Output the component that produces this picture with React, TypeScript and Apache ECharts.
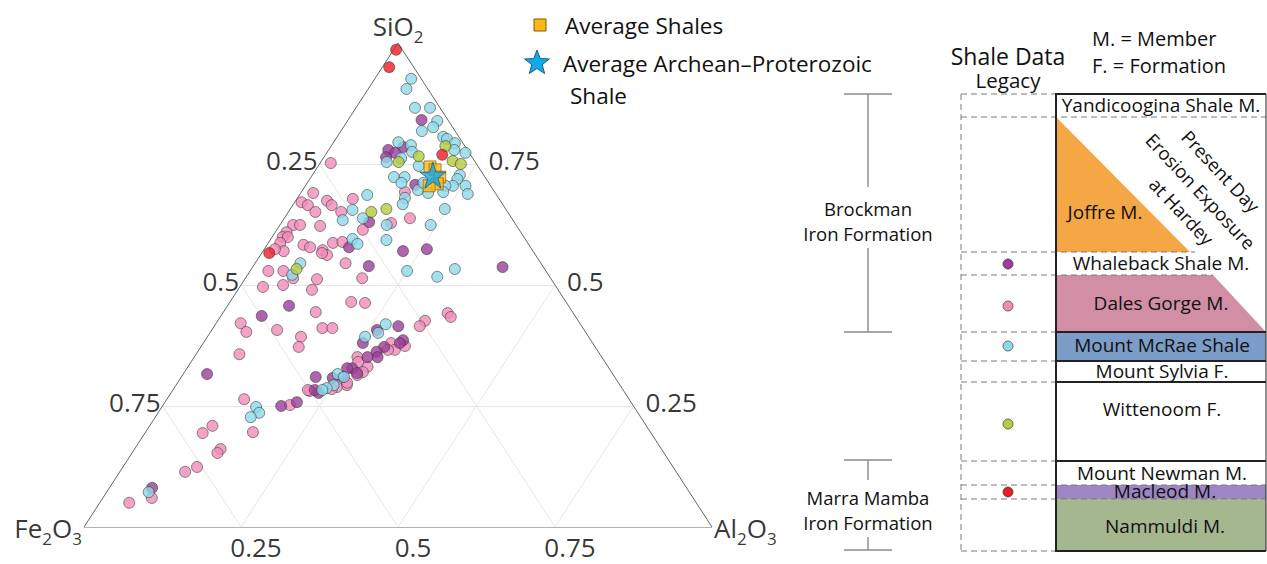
import { useEffect, useRef } from "react";
import * as echarts from "echarts";

// Ternary data, each point = [SiO2 %, Al2O3 %]  (Fe2O3 = 100 - SiO2 - Al2O3)
const macleodRed: number[][] = [
  [98.6, 0.4], [95.0, 1.1], [76.9, 18.6], [56.6, 1.2],
];
const mountMcRaeCyan: number[][] = [
  [92.6, 5.8], [90.5, 6.1], [86.6, 9.4], [86.6, 11.8], [83.9, 14.3], [82.6, 14.3], [81.8, 12.9],
  [80.6, 16.9], [80.2, 17.7], [79.3, 19.4], [77.9, 20.0], [77.3, 22.1], [79.5, 10.3], [78.9, 12.6],
  [76.2, 12.4], [75.4, 10.5], [74.6, 16.0], [72.3, 13.2], [72.3, 14.9], [71.1, 15.0], [72.7, 23.5],
  [71.9, 23.5], [70.5, 23.5], [70.5, 25.5], [68.8, 26.7], [70.5, 22.3], [69.6, 18.4], [69.0, 20.3],
  [68.0, 17.1], [66.7, 17.4], [65.7, 24.6], [68.6, 10.8], [65.5, 10.0], [63.4, 9.5], [63.8, 12.5],
  [62.4, 17.0], [59.3, 18.5], [62.4, 24.0], [59.5, 13.0], [58.5, 14.3], [54.5, 7.2], [52.1, 7.1],
  [52.9, 25.0], [51.7, 30.4], [53.3, 32.4], [41.9, 27.1], [40.1, 26.8], [39.3, 25.1], [31.6, 24.6],
  [31.0, 25.9], [29.3, 25.1], [28.7, 24.3], [28.3, 23.8], [24.8, 15.0], [23.6, 16.1], [22.7, 15.2],
  [7.2, 6.7], [69.2, 22.6], [71.1, 18.5], [77.5, 13.5],
];
const wittenoomGreen: number[][] = [
  [76.6, 15.0], [75.6, 20.9], [75.0, 22.5], [75.4, 12.4], [78.7, 18.2], [65.1, 13.2], [65.7, 15.3],
  [53.3, 7.2],
];
const whalebackPurple: number[][] = [
  [84.1, 11.7], [77.9, 9.5], [77.3, 10.9], [78.5, 11.6], [76.4, 9.9], [70.7, 17.4], [63.0, 13.9],
  [57.8, 13.3], [57.0, 22.3], [57.4, 25.9], [53.9, 18.4], [53.7, 39.8], [45.7, 9.8], [43.6, 6.5],
  [31.6, 3.8], [41.5, 29.3], [40.7, 26.3], [38.6, 31.5], [38.0, 31.3], [37.2, 29.2], [36.2, 28.5],
  [35.1, 29.2], [35.1, 27.6], [32.8, 26.3], [32.8, 25.5], [31.8, 27.6], [31.0, 25.7], [31.0, 21.4],
  [30.8, 24.2], [27.7, 23.5], [28.3, 22.6], [25.8, 21.0], [25.0, 18.9], [8.1, 6.8], [38.0, 25.4],
];
const dalesGorgePink: number[][] = [
  [75.2, 1.7], [69.0, 2.0], [67.1, 1.1], [66.5, 2.4], [65.1, 4.3], [67.4, 5.0], [66.5, 6.2],
  [67.8, 8.9], [65.1, 8.4], [62.4, 2.1], [62.4, 3.2], [62.2, 6.5], [60.9, 1.8], [59.9, 1.7],
  [59.9, 2.5], [58.7, 1.9], [57.0, 3.3], [57.4, 1.7], [58.3, 5.8], [57.8, 7.1], [58.7, 10.3],
  [58.9, 11.7], [57.2, 9.4], [56.2, 10.6], [56.6, 9.6], [61.4, 13.7], [62.8, 17.5], [63.8, 20.0],
  [69.2, 16.5], [54.5, 14.4], [52.9, 2.9], [52.9, 5.3], [50.0, 6.7], [49.6, 3.7], [51.2, 11.5],
  [49.0, 11.8], [51.4, 18.6], [51.4, 7.6], [42.1, 3.9], [40.3, 5.7], [40.7, 10.4], [39.3, 14.9],
  [37.2, 15.6], [44.4, 14.7], [46.5, 19.3], [46.3, 21.6], [41.1, 17.4], [41.1, 19.0], [35.7, 6.9],
  [44.2, 35.8], [43.4, 36.7], [42.6, 33.0], [41.5, 32.7], [38.0, 29.9], [36.6, 31.2], [37.4, 32.4],
  [35.1, 26.0], [33.1, 28.6], [32.0, 28.4], [31.4, 27.8], [29.3, 27.2], [28.9, 25.8], [28.5, 25.2],
  [28.1, 21.9], [25.2, 20.2], [26.4, 12.3], [19.6, 17.1], [20.9, 10.0], [19.4, 9.2], [16.1, 13.7],
  [15.3, 13.6], [12.4, 11.8], [11.4, 10.4], [6.0, 7.8], [5.0, 4.7], [36.6, 30.1], [34.1, 26.6],
  [29.8, 27.0], [28.3, 21.5],
];
const averageShales: number[][] = [
  [74.4, 17.9], [73.8, 19.0], [72.3, 20.5], [70.9, 20.8], [70.5, 19.7],
];
const averageArcheanProterozoicShale: number[][] = [[72.7, 19.2]];

const gridTicks = [25, 50, 75];
const tickLabels = ["0.25", "0.5", "0.75"];

const units = [
  "Yandicoogina Shale M.", "Joffre M.", "Whaleback Shale M.", "Dales Gorge M.", "Mount McRae Shale",
  "Mount Sylvia F.", "Wittenoom F.", "Mount Newman M.", "Macleod M.", "Nammuldi M.",
];

const FONT = "Open Sans";

// ternary -> cartesian (x = Al + Si/2, y = Si)
const toXY = (p: number[]) => [p[1] + p[0] / 2, p[0]];

function starPoints(cx: number, cy: number, R: number, r: number) {
  const pts: number[][] = [];
  for (let i = 0; i < 10; i++) {
    const a = -Math.PI / 2 + (i * Math.PI) / 5;
    const rr = i % 2 === 0 ? R : r;
    pts.push([cx + rr * Math.cos(a), cy + rr * Math.sin(a)]);
  }
  return pts;
}

const STAR_PATH =
  "path://M50,0 L61.8,35.4 L99,35.4 L69,57.3 L80.4,92.7 L50,70.8 L19.6,92.7 L31,57.3 L1,35.4 L38.2,35.4 Z";

export default function App() {
  const ref = useRef<HTMLDivElement>(null);
  useEffect(() => {
    document.body.style.margin = "0";
    if (!ref.current) return;
    const chart = echarts.init(ref.current, undefined, { renderer: "svg" });

    const gridLines: any[] = [];
    gridTicks.forEach((t) => {
      gridLines.push({ coords: [[t / 2, t], [100 - t / 2, t]] });
      gridLines.push({ coords: [[t, 0], [t + (100 - t) / 2, 100 - t]] });
      gridLines.push({ coords: [[100 - t, 0], [(100 - t) / 2, 100 - t]] });
    });
    const border = [
      { coords: [[0, 0], [100, 0]] },
      { coords: [[0, 0], [50, 100]] },
      { coords: [[100, 0], [50, 100]] },
    ];

    const tickFont = { fontFamily: FONT, fontSize: 26, color: "#000" };
    const tickData: any[] = [];
    gridTicks.forEach((t, i) => {
      tickData.push({
        name: tickLabels[i], value: [(100 - t) / 2, 100 - t],
        label: { position: "left", distance: 2, offset: [0, -4] },
      });
      tickData.push({
        name: tickLabels[i], value: [100 - t / 2, t],
        label: { position: "right", distance: 12, offset: [0, -4] },
      });
      tickData.push({
        name: tickLabels[i], value: [t, 0],
        label: { position: "bottom", distance: 7, offset: [15, 0] },
      });
    });

    const rich = {
      m: { fontFamily: FONT, fontSize: 26, color: "#000", lineHeight: 30, verticalAlign: "top" },
      s: { fontFamily: FONT, fontSize: 17, color: "#000", lineHeight: 16, verticalAlign: "top", padding: [15, 0, 0, 0] },
    };
    const cornerData = [
      { name: `{m|SiO}{s|2}`, value: [50, 100], label: { position: "top", distance: 0 } },
      { name: `{m|Fe}{s|2}{m|O}{s|3}`, value: [0, 0], label: { position: "left", distance: 2, offset: [0, 3] } },
      { name: `{m|Al}{s|2}{m|O}{s|3}`, value: [100, 0], label: { position: "right", distance: 2, offset: [0, 3] } },
    ];

    const pointSeries = (name: string, data: number[][], color: string, z: number) => ({
      type: "scatter", name, data: data.map(toXY), symbol: "circle", symbolSize: 11, z,
      itemStyle: { color, borderColor: "#333", borderWidth: 0.7 },
    });

    const tColor = "#111";
    const txt = (text: string, x: number, y: number, size = 19, extra: any = {}) => ({
      type: "text", x, y, ...extra,
      style: { text, fill: tColor, font: `${size}px "${FONT}"`, align: "center", verticalAlign: "middle", ...(extra.style || {}) },
    });
    const solid = (x1: number, y1: number, x2: number, y2: number, w = 1.8) => ({
      type: "line", shape: { x1, y1, x2, y2 }, style: { stroke: "#222", lineWidth: w },
    });
    const dash = (x1: number, y1: number, x2: number, y2: number) => ({
      type: "line", shape: { x1, y1, x2, y2 }, style: { stroke: "#7a7a7a", lineWidth: 1, lineDash: [6, 4] },
    });
    const grey = (x1: number, y1: number, x2: number, y2: number) => ({
      type: "line", shape: { x1, y1, x2, y2 }, style: { stroke: "#8a8a8a", lineWidth: 1.4 },
    });

    const colL = 961, colX = 1056, colR = 1266;
    const rot = (-47 * Math.PI) / 180;
    const leftText = (text: string, x: number, y: number, size: number) => ({
      type: "text", x, y, style: { text, fill: tColor, font: `${size}px "${FONT}"`, verticalAlign: "middle" },
    });

    const graphic: any[] = [
      // legend (left)
      { type: "rect", shape: { x: 534, y: 19, width: 12, height: 12 }, style: { fill: "#fdb714", stroke: "#7a5a00", lineWidth: 1 } },
      leftText("Average Shales", 565, 25, 22.5),
      { type: "polygon", shape: { points: starPoints(537, 63, 13, 5.5) }, style: { fill: "#12a9e8", stroke: "#1d5f88", lineWidth: 1 } },
      leftText("Average Archean–Proterozoic", 563, 63, 22.5),
      leftText("Shale", 570, 95, 22.5),

      // fills
      { type: "polygon", shape: { points: [[colX, 117], [colX, 252], [1190, 252]] }, style: { fill: "#f5a645" } },
      { type: "polygon", shape: { points: [[colX, 275], [1213, 275], [colR, 332], [colX, 332]] }, style: { fill: "#d18ea5" } },
      { type: "rect", shape: { x: colX, y: 332, width: colR - colX, height: 29 }, style: { fill: "#7b9dc7" } },
      { type: "rect", shape: { x: colX, y: 485, width: colR - colX, height: 14 }, style: { fill: "#9c86c3" } },
      { type: "rect", shape: { x: colX, y: 499, width: colR - colX, height: 52 }, style: { fill: "#a4b78f" } },

      // dashed
      dash(colL, 94, colX, 94), dash(colL, 117, colR, 117), dash(colL, 252, 1195, 252),
      dash(colL, 275, 1213, 275), dash(colL, 332, colX, 332), dash(colL, 361, colX, 361),
      dash(colL, 382, colX, 382), dash(colL, 461, colX, 461), dash(colL, 485, colR, 485),
      dash(colL, 499, colR, 499), dash(colL, 551, colX, 551), dash(colL, 94, colL, 551),

      // solid
      solid(colX, 94, colR, 94), solid(colX, 332, colR, 332), solid(colX, 361, colR, 361),
      solid(colX, 382, colR, 382), solid(colX, 461, colR, 461), solid(colX, 551, colR, 551),
      solid(colX, 93, colX, 552, 2), solid(colR, 94, colR, 551, 1),

      // brackets
      grey(844, 94, 892, 94), grey(868, 94, 868, 187), grey(868, 248, 868, 332), grey(844, 332, 892, 332),
      grey(844, 460, 892, 460), grey(868, 460, 868, 480), grey(868, 537, 868, 550), grey(844, 550, 892, 550),
      txt("Brockman", 868, 208, 18.5), txt("Iron Formation", 868, 233, 18.5),
      txt("Marra Mamba", 868, 497, 18.5), txt("Iron Formation", 868, 522, 18.5),

      // headers
      txt("Shale Data", 1008, 56, 23), txt("Legacy", 1008, 80, 20.5),
      leftText("M. = Member", 1092, 38, 20),
      leftText("F. = Formation", 1092, 65, 20),

      // unit names
      txt(units[0], 1161, 105), txt(units[1], 1105, 212), txt(units[2], 1161, 263),
      txt(units[3], 1161, 303), txt(units[4], 1162, 345), txt(units[5], 1162, 371),
      txt(units[6], 1162, 409), txt(units[7], 1162, 473), txt(units[8], 1165, 491),
      txt(units[9], 1165, 526),
      txt("Present Day", 1221, 171, 18.5, { rotation: rot }),
      txt("Erosion Exposure", 1201, 191, 18.5, { rotation: rot }),
      txt("at Hardey", 1182, 211, 18.5, { rotation: rot }),

      // legend dots
      { type: "circle", shape: { cx: 1008, cy: 264, r: 5 }, style: { fill: "#9b3f98", stroke: "#333", lineWidth: 0.7 } },
      { type: "circle", shape: { cx: 1008, cy: 306, r: 5 }, style: { fill: "#f18cb8", stroke: "#333", lineWidth: 0.7 } },
      { type: "circle", shape: { cx: 1008, cy: 346, r: 5 }, style: { fill: "#8ed8ea", stroke: "#333", lineWidth: 0.7 } },
      { type: "circle", shape: { cx: 1008, cy: 424, r: 5 }, style: { fill: "#b3cd3c", stroke: "#333", lineWidth: 0.7 } },
      { type: "circle", shape: { cx: 1008, cy: 492, r: 5 }, style: { fill: "#ec1c24", stroke: "#333", lineWidth: 0.7 } },
    ];

    chart.setOption({
      animation: false,
      backgroundColor: "#fff",
      grid: { left: 84, top: 43, width: 628, height: 484 },
      xAxis: { type: "value", min: 0, max: 100, show: false },
      yAxis: { type: "value", min: 0, max: 100, show: false },
      series: [
        { type: "lines", coordinateSystem: "cartesian2d", data: gridLines, silent: true, z: 1,
          lineStyle: { color: "#e6e6e6", width: 1, opacity: 1 } },
        { type: "lines", coordinateSystem: "cartesian2d", data: border, silent: true, z: 1,
          lineStyle: { color: "#666", width: 1, opacity: 1 } },
        { type: "scatter", data: tickData, symbolSize: 0, silent: true, z: 1,
          label: { show: true, formatter: (p: any) => p.name, ...tickFont } },
        { type: "scatter", data: cornerData, symbolSize: 0, silent: true, z: 1,
          label: { show: true, formatter: (p: any) => p.name, rich } },
        pointSeries("Dales Gorge M.", dalesGorgePink, "#f18cb8", 3),
        pointSeries("Whaleback Shale M.", whalebackPurple, "#9b3f98", 4),
        pointSeries("Mount McRae Shale", mountMcRaeCyan, "#8ed8ea", 5),
        pointSeries("Wittenoom F.", wittenoomGreen, "#b3cd3c", 6),
        pointSeries("Macleod M.", macleodRed, "#ec1c24", 7),
        { type: "scatter", name: "Average Shales", data: averageShales.map(toXY), symbol: "rect", symbolSize: 12, z: 8,
          itemStyle: { color: "#fdb714", borderColor: "#7a5a00", borderWidth: 0.8 } },
        { type: "scatter", name: "Average Archean–Proterozoic Shale", data: averageArcheanProterozoicShale.map(toXY),
          symbol: STAR_PATH, symbolSize: 26, z: 9,
          itemStyle: { color: "#12a9e8", borderColor: "#1d5f88", borderWidth: 1 } },
      ],
      graphic,
    });
    return () => chart.dispose();
  }, []);
  return <div ref={ref} style={{ width: 1267, height: 564 }} />;
}
